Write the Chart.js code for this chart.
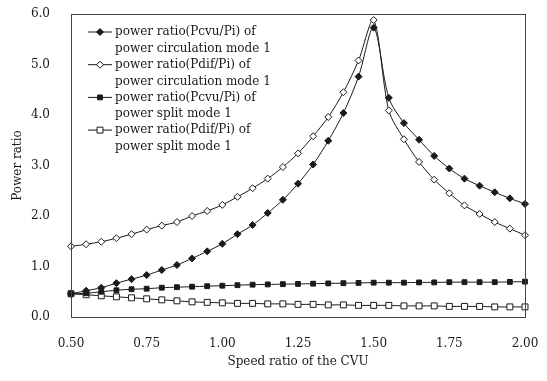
<!DOCTYPE html>
<html>
<head>
<meta charset="utf-8">
<script src="https://cdn.jsdelivr.net/npm/chart.js@4/dist/chart.umd.min.js"></script>
<style>
  html, body { margin: 0; padding: 0; background: #fff; }
  #wrap { position: relative; width: 547px; height: 381px; }
</style>
</head>
<body>
<div id="wrap"><canvas id="ratioChart" width="547" height="381"></canvas></div>
<script>
// Speed ratio of the CVU (x axis)
const speedRatio = [
  0.50, 0.55, 0.60, 0.65, 0.70, 0.75, 0.80, 0.85, 0.90, 0.95,
  1.00, 1.05, 1.10, 1.15, 1.20, 1.25, 1.30, 1.35, 1.40, 1.45,
  1.50, 1.55, 1.60, 1.65, 1.70, 1.75, 1.80, 1.85, 1.90, 1.95, 2.00
];

// Pcvu/Pi, power circulation mode 1
const pcvuCirc = [
  0.46, 0.52, 0.58, 0.67, 0.75, 0.83, 0.93, 1.03, 1.16, 1.30,
  1.45, 1.64, 1.82, 2.06, 2.32, 2.64, 3.02, 3.49, 4.04, 4.76,
  5.73, 4.34, 3.84, 3.51, 3.19, 2.94, 2.74, 2.60, 2.47, 2.35, 2.24
];

// Pdif/Pi, power circulation mode 1
const pdifCirc = [
  1.40, 1.44, 1.49, 1.56, 1.64, 1.73, 1.81, 1.88, 2.00, 2.10,
  2.22, 2.38, 2.55, 2.74, 2.97, 3.24, 3.58, 3.96, 4.45, 5.08,
  5.88, 4.09, 3.52, 3.07, 2.72, 2.45, 2.21, 2.04, 1.88, 1.75, 1.62
];

// Pcvu/Pi, power split mode 1
const pcvuSplit = [
  0.46, 0.47, 0.50, 0.53, 0.55, 0.56, 0.58, 0.59, 0.60, 0.61,
  0.62, 0.63, 0.64, 0.645, 0.65, 0.655, 0.66, 0.665, 0.67, 0.675,
  0.68, 0.68, 0.68, 0.685, 0.685, 0.69, 0.69, 0.69, 0.69, 0.695, 0.70
];

// Pdif/Pi, power split mode 1
const pdifSplit = [
  0.46, 0.44, 0.42, 0.40, 0.38, 0.36, 0.34, 0.32, 0.30, 0.29,
  0.28, 0.27, 0.27, 0.26, 0.26, 0.25, 0.25, 0.24, 0.24, 0.23,
  0.23, 0.23, 0.22, 0.22, 0.22, 0.21, 0.21, 0.21, 0.20, 0.20, 0.20
];

const legendLines = [
  ['power ratio(Pcvu/Pi) of', 'power circulation mode 1'],
  ['power ratio(Pdif/Pi) of', 'power circulation mode 1'],
  ['power ratio(Pcvu/Pi) of', 'power split mode 1'],
  ['power ratio(Pdif/Pi) of', 'power split mode 1']
];

const xTicks = [0.50, 0.75, 1.00, 1.25, 1.50, 1.75, 2.00];
const yTicks = [0, 1, 2, 3, 4, 5, 6];

const INK = '#1a1a1a';
const FONT = 'DejaVu Serif, Liberation Serif, serif';

Chart.defaults.font.family = FONT;
Chart.defaults.font.size = 12;
Chart.defaults.color = INK;

function series(values, label, pointStyle, filled, radius) {
  return {
    label: label,
    data: speedRatio.map((x, i) => ({ x: x, y: values[i] })),
    borderColor: INK,
    borderWidth: 1,
    pointStyle: pointStyle,
    pointRadius: radius,
    pointBorderWidth: 1,
    pointBorderColor: INK,
    pointBackgroundColor: filled ? INK : '#fff',
    tension: 0.3,
    clip: false
  };
}

// Two-line legend entries drawn inside the plot, top left
const boxedLegend = {
  id: 'boxedLegend',
  afterDatasetsDraw(chart) {
    const { ctx, chartArea } = chart;
    const x0 = chartArea.left + 17;
    const y0 = chartArea.top + 18;
    ctx.save();
    chart.data.datasets.forEach((ds, i) => {
      const y = y0 + i * 32.7;
      ctx.strokeStyle = INK;
      ctx.lineWidth = 1;
      ctx.beginPath();
      ctx.moveTo(x0, y);
      ctx.lineTo(x0 + 24, y);
      ctx.stroke();
      ctx.fillStyle = ds.pointBackgroundColor;
      Chart.helpers.drawPoint(ctx, {
        pointStyle: ds.pointStyle,
        radius: ds.pointRadius,
        borderWidth: 1,
        rotation: 0
      }, x0 + 12, y);
      ctx.fillStyle = INK;
      ctx.font = '12px ' + FONT;
      ctx.textBaseline = 'middle';
      ctx.textAlign = 'left';
      const lines = legendLines[i];
      ctx.fillText(lines[0], x0 + 27, y);
      ctx.fillText(lines[1], x0 + 27, y + 16.8);
    });
    ctx.restore();
  }
};

// Closed frame around the plot area
const plotFrame = {
  id: 'plotFrame',
  afterDraw(chart) {
    const { ctx, chartArea: a } = chart;
    ctx.save();
    ctx.strokeStyle = '#444';
    ctx.lineWidth = 1;
    ctx.strokeRect(a.left + 0.5, a.top + 0.5, a.right - a.left, a.bottom - a.top);
    ctx.restore();
  }
};

new Chart(document.getElementById('ratioChart'), {
  type: 'line',
  data: {
    datasets: [
      series(pcvuCirc, legendLines[0].join(' '), 'rectRot', true, 3.5),
      series(pdifCirc, legendLines[1].join(' '), 'rectRot', false, 3.5),
      series(pcvuSplit, legendLines[2].join(' '), 'rect', true, 3.4),
      series(pdifSplit, legendLines[3].join(' '), 'rect', false, 4.2)
    ]
  },
  options: {
    responsive: false,
    animation: false,
    layout: { padding: { top: 14, right: 22, left: 0, bottom: 0 } },
    plugins: {
      legend: { display: false },
      tooltip: { enabled: false }
    },
    scales: {
      x: {
        type: 'linear',
        min: 0.5,
        max: 2.0,
        afterBuildTicks: (s) => { s.ticks = xTicks.map(v => ({ value: v })); },
        // fixed band height; edge labels may overhang, layout padding handles it
        afterFit: (s) => { s.height = 64; s.paddingLeft = 0; s.paddingRight = 0; },
        border: { color: '#444' },
        grid: { drawOnChartArea: false, drawTicks: false },
        ticks: { padding: 20, callback: (v) => v.toFixed(2) },
        title: { display: true, text: 'Speed ratio of the CVU', padding: { top: 0, bottom: 12 } }
      },
      y: {
        min: 0,
        max: 6,
        afterBuildTicks: (s) => { s.ticks = yTicks.map(v => ({ value: v })); },
        afterFit: (s) => { s.width = 71; s.paddingTop = 0; s.paddingBottom = 0; },
        border: { color: '#444' },
        grid: { drawOnChartArea: false, drawTicks: false },
        ticks: { padding: 21, callback: (v) => v.toFixed(1) },
        title: { display: true, text: 'Power ratio', padding: { top: 11, bottom: 0 } }
      }
    }
  },
  plugins: [boxedLegend, plotFrame]
});
</script>
</body>
</html>
